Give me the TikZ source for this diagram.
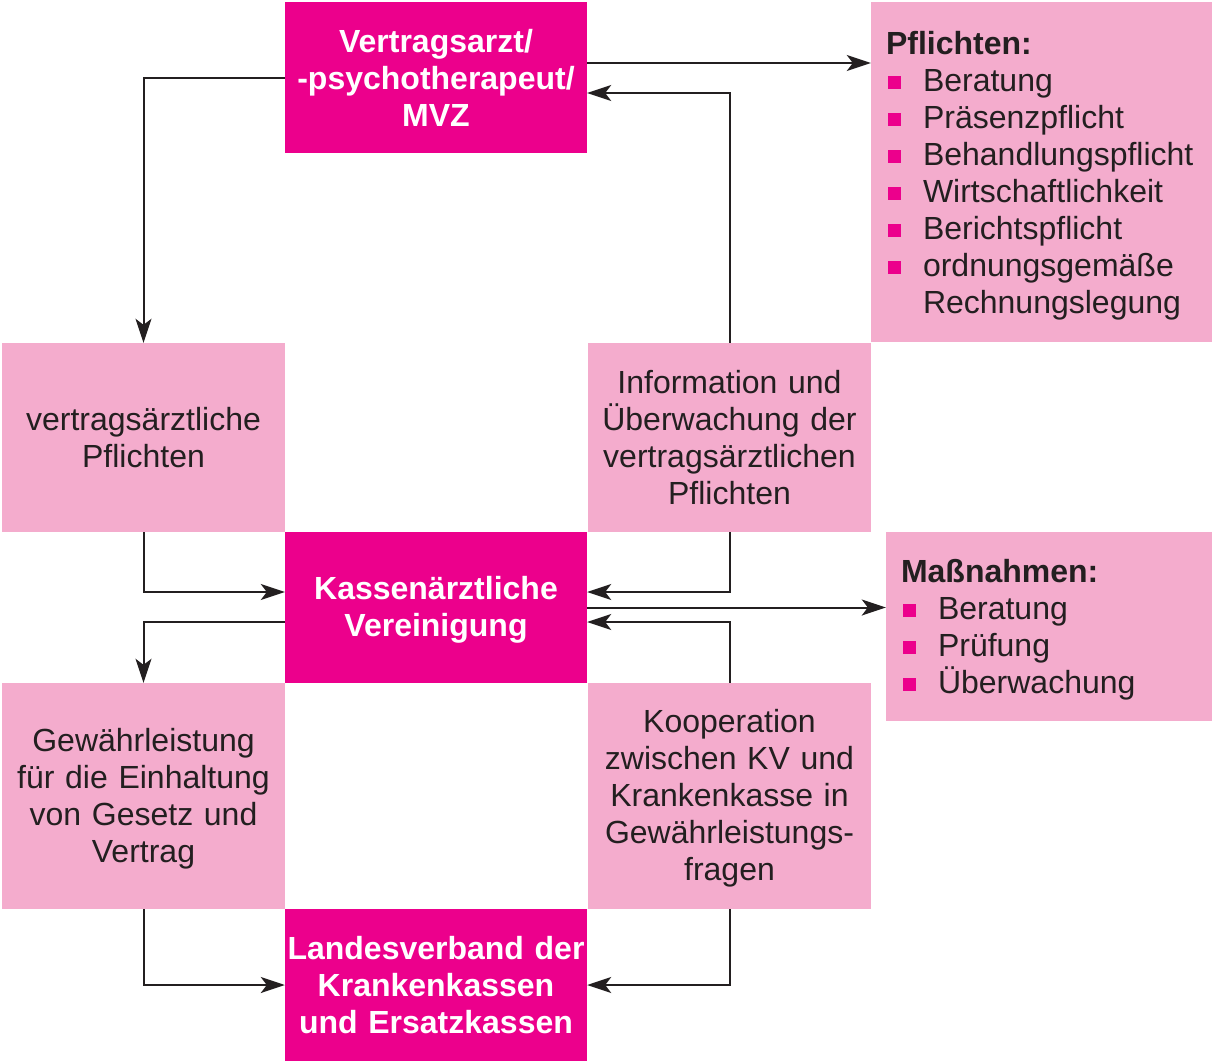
\documentclass[tikz,border=0pt]{standalone}
\usepackage{fontspec}
\setmainfont{Liberation Sans}
\usetikzlibrary{arrows.meta}
\definecolor{mag}{HTML}{EC008C}
\definecolor{lpink}{HTML}{F4ACCD}
\definecolor{ink}{HTML}{231F20}
\newcommand\bul{\makebox[37pt][l]{\hspace{2pt}\textcolor{mag}{\raisebox{3pt}{\rule{13pt}{13pt}}}}}
\begin{document}
\begin{tikzpicture}[x=1pt,y=-1pt,
  every node/.style={font=\fontsize{32}{37}\selectfont, text=ink},
  magbox/.style={fill=mag, inner sep=0pt, align=center, text=white, font=\fontsize{32}{37}\selectfont\bfseries},
  pinkbox/.style={fill=lpink, inner sep=0pt, align=center},
  listbox/.style={fill=lpink, inner xsep=15pt, inner ysep=0pt, align=left},
  arr/.style={draw=ink, line width=2pt, -{Stealth[length=24pt,width=16pt,inset=6pt]}}
]
\useasboundingbox (0,0) rectangle (1212,1063);
% pink boxes
\node[listbox, text width=311pt, minimum height=340pt] (pfl) at (1041.5,172) {\rule{0pt}{31pt}\textbf{Pflichten:}\\
\bul Beratung\\
\bul Präsenzpflicht\\
\bul Behandlungspflicht\\
\bul Wirtschaftlichkeit\\
\bul Berichtspflicht\\
\bul ordnungsgemäße\\
\hspace*{37pt}Rechnungslegung};
\node[pinkbox, text width=283pt, minimum height=189pt] (vp) at (143.5,437.5) {vertragsärztliche\\Pflichten};
\node[pinkbox, text width=283pt, minimum height=189pt] (info) at (729.5,437.5) {Information und\\Überwachung der\\vertragsärztlichen\\Pflichten};
\node[listbox, text width=296pt, minimum height=189pt] (mass) at (1049,626.5) {\rule{0pt}{30pt}\textbf{Maßnahmen:}\\
\bul Beratung\\
\bul Prüfung\\
\bul Überwachung};
\node[pinkbox, text width=283pt, minimum height=226pt] (gew) at (143.5,796) {\rule{0pt}{29pt}Gewährleistung\\für die Einhaltung\\von Gesetz und\\Vertrag};
\node[pinkbox, text width=283pt, minimum height=226pt] (koop) at (729.5,796) {\rule{0pt}{27pt}Kooperation\\zwischen KV und\\Krankenkasse in\\Gewährleistungs-\\fragen};
% magenta boxes
\node[magbox, text width=302pt, minimum height=151pt] (top) at (436,77.5) {Vertragsarzt/\\-psychotherapeut/\\MVZ};
\node[magbox, text width=302pt, minimum height=151pt] (kv) at (436,607.5) {\rule{0pt}{27pt}Kassenärztliche\\Vereinigung};
\node[magbox, text width=302pt, minimum height=152pt] (lv) at (436,985) {Landesverband der\\Krankenkassen\\und Ersatzkassen};
% connectors
\draw[arr] (top.west) -| (vp.north);
\draw[arr] ([yshift=14.5pt]top.east) -- ([yshift=14.5pt]top.east -| pfl.west);
\draw[arr] (info.north) |- ([yshift=-15.5pt]top.east);
\draw[arr] (vp.south) |- ([yshift=15.5pt]kv.west);
\draw[arr] (info.south) |- ([yshift=15.5pt]kv.east);
\draw[arr] (kv.east) -- (kv.east -| mass.west);
\draw[arr] (koop.north) |- ([yshift=-14.5pt]kv.east);
\draw[arr] ([yshift=-14.5pt]kv.west) -| (gew.north);
\draw[arr] (gew.south) |- (lv.west);
\draw[arr] (koop.south) |- (lv.east);
\end{tikzpicture}
\end{document}
